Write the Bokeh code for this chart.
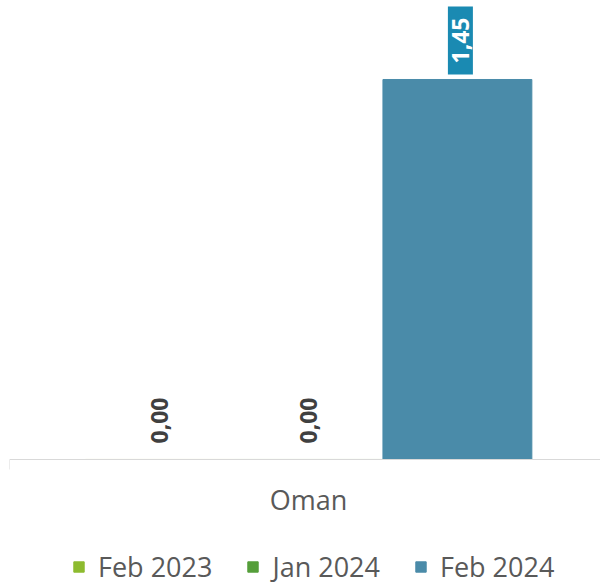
from bokeh.plotting import figure
from bokeh.models import ColumnDataSource, Range1d, FixedTicker, Legend, LegendItem
from bokeh.core.properties import value
from bokeh.embed import file_html
from bokeh.resources import INLINE
import math

# ---- data ----
categories = ["Oman"]
series = ["Feb 2023", "Jan 2024", "Feb 2024"]
values = [0.0, 0.0, 1.45]
labels = ["0,00", "0,00", "1,45"]
colors = ["#8DBB2F", "#559E3A", "#4A8BA9"]

# ---- layout helpers ----
slot = 0.249
offsets = [-slot, 0.0, slot]
cat_center = 0.5
xs = [cat_center + o for o in offsets]

src = ColumnDataSource(dict(x=xs, top=values, color=colors, label=labels, series=series))

pos_idx = [i for i, v in enumerate(values) if v > 0]
zero_idx = [i for i, v in enumerate(values) if v <= 0]
src_pos = ColumnDataSource(dict(x=[xs[i] for i in pos_idx], y=[values[i] for i in pos_idx],
                                label=[labels[i] for i in pos_idx]))
src_zero = ColumnDataSource(dict(x=[xs[i] for i in zero_idx], y=[values[i] for i in zero_idx],
                                 label=[labels[i] for i in zero_idx]))

p = figure(width=600, height=585, output_backend="svg", toolbar_location=None,
           x_range=Range1d(0, 591 / 598), y_range=Range1d(-0.4808, 1.7514),
           min_border_left=9, min_border_right=0, min_border_top=0, min_border_bottom=0)
p.outline_line_color = None
p.xgrid.visible = False
p.ygrid.visible = False
p.yaxis.visible = False
p.background_fill_color = "white"
p.border_fill_color = "white"

bars = p.vbar(x="x", top="top", bottom=0, width=slot, color="color", source=src)

# data labels
p.text(x="x", y="y", text="label", source=src_pos, angle=math.pi / 2,
       text_align="left", text_baseline="middle", x_offset=3, y_offset=-5,
       text_font=value("Open Sans"), text_font_style="bold", text_font_size="23px",
       text_color="white", background_fill_color="#1A8AB2",
       padding=dict(left=11, right=11, top=4, bottom=4))
p.text(x="x", y="y", text="label", source=src_zero, angle=math.pi / 2,
       text_align="left", text_baseline="middle", y_offset=-16,
       text_font=value("Open Sans"), text_font_style="bold", text_font_size="23px",
       text_color="#404040")

# category axis, drawn at y = 0
ax = p.xaxis[0]
ax.fixed_location = 0
ax.ticker = FixedTicker(ticks=[cat_center], minor_ticks=[0.0])
ax.major_label_overrides = {cat_center: categories[0]}
ax.axis_line_color = "#D9D9D9"
ax.axis_line_width = 1
ax.major_tick_line_color = None
ax.major_tick_out = 0
ax.major_tick_in = 0
ax.minor_tick_line_color = "#D9D9D9"
ax.minor_tick_out = 10
ax.minor_tick_in = 0
ax.major_label_standoff = 12
ax.major_label_text_font = "Open Sans"
ax.major_label_text_font_size = "27px"
ax.major_label_text_color = "#595959"

# legend
items = [LegendItem(label=s, renderers=[bars], index=i) for i, s in enumerate(series)]
legend = Legend(items=items, orientation="horizontal", location=(63, 0),
                glyph_width=13, glyph_height=13, label_standoff=13, spacing=34,
                padding=0, margin=0, border_line_color=None, background_fill_alpha=0,
                label_text_font="Open Sans", label_text_font_size="27px",
                label_text_color="#595959")
p.add_layout(legend, "center")

open("out.html", "w").write(file_html(p, INLINE))
